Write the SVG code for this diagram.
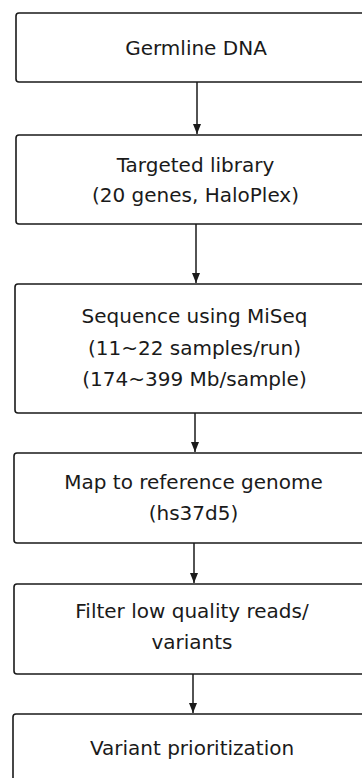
<svg xmlns="http://www.w3.org/2000/svg" width="362" height="778" viewBox="0 0 362 778">
<defs>
<marker id="ah" viewBox="0 0 10 8" refX="10" refY="4" markerWidth="10" markerHeight="8" markerUnits="userSpaceOnUse" orient="auto">
<path d="M0,0 L10,4 L0,8 Z" fill="#1a1a1a"/>
</marker>
<style>
.box{fill:#fff;stroke:#1a1a1a;stroke-width:1.6}
.lbl{font-family:"DejaVu Sans",Verdana,sans-serif;font-size:20px;fill:#1a1a1a;text-anchor:middle}
.con{stroke:#1a1a1a;stroke-width:1.5;fill:none}
</style>
</defs>
<rect width="362" height="778" fill="#fff"/>
<g id="connectors">
<line class="con" x1="197" y1="82" x2="197" y2="134" marker-end="url(#ah)"/>
<line class="con" x1="196" y1="224" x2="196" y2="283" marker-end="url(#ah)"/>
<line class="con" x1="195" y1="413" x2="195" y2="452" marker-end="url(#ah)"/>
<line class="con" x1="194" y1="543" x2="194" y2="583" marker-end="url(#ah)"/>
<line class="con" x1="193" y1="674" x2="193" y2="713" marker-end="url(#ah)"/>
</g>
<g id="n1">
<rect class="box" x="16" y="13" width="370" height="69" rx="3"/>
<text class="lbl" x="196" y="54.5">Germline DNA</text>
</g>
<g id="n2">
<rect class="box" x="16" y="135" width="370" height="89" rx="3"/>
<text class="lbl" x="195.5" y="172">Targeted library</text>
<text class="lbl" x="195.5" y="202">(20 genes, HaloPlex)</text>
</g>
<g id="n3">
<rect class="box" x="15" y="284" width="370" height="129" rx="3"/>
<text class="lbl" x="194.5" y="323">Sequence using MiSeq</text>
<text class="lbl" x="194.5" y="355">(11~22 samples/run)</text>
<text class="lbl" x="194.5" y="386">(174~399 Mb/sample)</text>
</g>
<g id="n4">
<rect class="box" x="14" y="453" width="370" height="90" rx="3"/>
<text class="lbl" x="193.5" y="489">Map to reference genome</text>
<text class="lbl" x="193.5" y="520">(hs37d5)</text>
</g>
<g id="n5">
<rect class="box" x="14" y="584" width="370" height="90" rx="3"/>
<text class="lbl" x="192" y="618">Filter low quality reads/</text>
<text class="lbl" x="192" y="649">variants</text>
</g>
<g id="n6">
<rect class="box" x="13" y="714" width="370" height="90" rx="3"/>
<text class="lbl" x="192" y="755">Variant prioritization</text>
</g>
</svg>
